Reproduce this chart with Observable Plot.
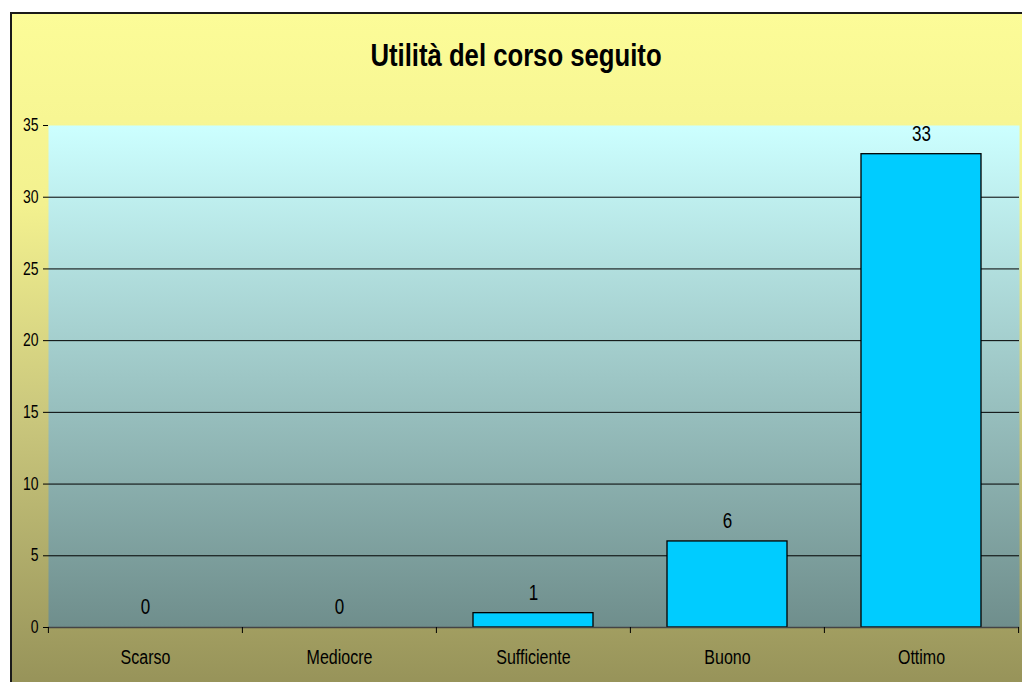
<!DOCTYPE html>
<html>
<head>
<meta charset="utf-8">
<script src="https://cdn.jsdelivr.net/npm/d3@7"></script>
<script src="https://cdn.jsdelivr.net/npm/@observablehq/plot@0.6"></script>
<style>
  html, body { margin: 0; padding: 0; background: #ffffff; width: 1022px; height: 682px; overflow: hidden; }
  #box {
    position: absolute; left: 10px; top: 12px; width: 1020px; height: 680px;
    border-left: 2px solid #1a1a1a; border-top: 2px solid #1a1a1a;
    background: linear-gradient(to bottom, #fcfc98 0%, #f3f18f 28%, #c9c67c 60%, #959158 100%);
  }
  #chart { position: absolute; left: 0; top: 0; }
  #title {
    position: absolute; left: 0; width: 1032px; top: 41px; text-align: center;
    font-family: "Liberation Sans", Arial, sans-serif; font-weight: bold; font-size: 25.7px; color: #000;
    transform: scaleY(1.25); transform-origin: center;
  }
</style>
</head>
<body>
<div id="box"></div>
<div id="title">Utilità del corso seguito</div>
<div id="chart"></div>
<script>
const categories = ["Scarso", "Mediocre", "Sufficiente", "Buono", "Ottimo"];
const values = [0, 0, 1, 6, 33];
const yTicks = [0, 5, 10, 15, 20, 25, 30, 35];

const data = categories.map((c, i) => ({category: c, value: values[i]}));

const W = 1022, H = 682;
const mL = 48, mR = 3, mT = 125, mB = 55;
const step = (W - mL - mR) / categories.length;

const defs = () => {
  const d = d3.create("svg:defs");
  const g = d.append("linearGradient").attr("id", "plotGrad")
    .attr("x1", 0).attr("y1", 0).attr("x2", 0).attr("y2", 1);
  g.append("stop").attr("offset", "0%").attr("stop-color", "#ccffff");
  g.append("stop").attr("offset", "100%").attr("stop-color", "#6f8e8c");
  return d.node();
};

const font = "'Liberation Sans', Arial, sans-serif";

const chart = Plot.plot({
  width: W,
  height: H,
  marginLeft: mL,
  marginRight: mR,
  marginTop: mT,
  marginBottom: mB,
  style: {background: "transparent", fontFamily: font, fontSize: "14px", color: "#000", overflow: "visible"},
  x: {domain: categories, paddingInner: 0.38, paddingOuter: 0.19, label: null},
  y: {domain: [0, 35], label: null},
  marks: [
    defs,
    Plot.frame({fill: "url(#plotGrad)", stroke: null}),
    Plot.ruleY(yTicks.filter(t => t > 0 && t < 35), {stroke: "#000", strokeWidth: 1}),
    Plot.barY(data, {x: "category", y: "value", fill: "#00ccff", stroke: "#000", strokeWidth: 1.3}),
    Plot.text(data, {x: "category", y: "value", text: d => String(d.value), dy: -20, fontSize: 17, lineAnchor: "middle", fill: "#000"}),
    Plot.ruleY([0], {stroke: "#444", strokeWidth: 1.5}),
    Plot.ruleX([0], {x: () => 0, frameAnchor: "left", stroke: "#000"}),
    Plot.axisY({ticks: yTicks, tickSize: 5, tickPadding: 5, tickFormat: d => String(d), stroke: "#000"}),
    Plot.axisX({tickSize: 0, tickPadding: 22, label: null}),
    Plot.axisX({text: null, tickSize: 6, dx: -step / 2, stroke: "#000"}),
    Plot.axisX({ticks: [categories[categories.length - 1]], text: null, tickSize: 6, dx: step / 2, stroke: "#000"})
  ]
});

// Category labels slightly larger; all labels stretched vertically like the original rendering
chart.querySelectorAll("text").forEach(t => {
  if (categories.includes(t.textContent)) t.style.fontSize = "16px";
  const tr = t.getAttribute("transform");
  if (tr) t.setAttribute("transform", `${tr} scale(1,1.25)`);
});

document.getElementById("chart").appendChild(chart);
</script>
</body>
</html>
